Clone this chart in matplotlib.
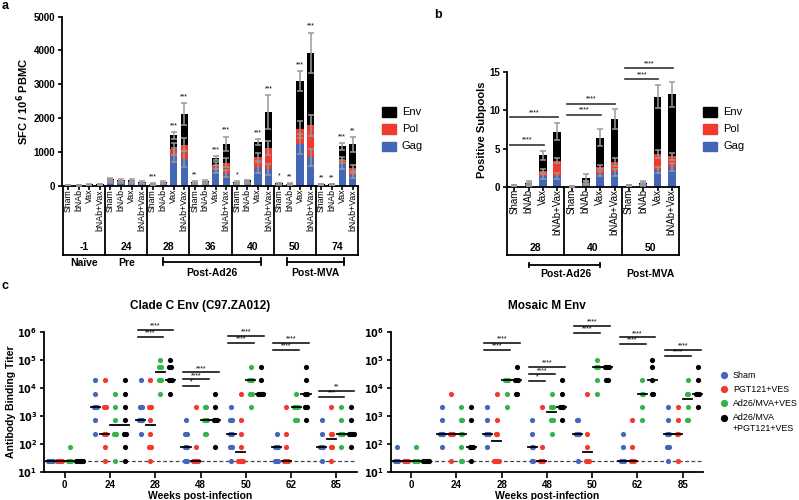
import numpy as np
import matplotlib.pyplot as plt
from matplotlib.patches import Rectangle
from matplotlib.lines import Line2D

plt.rcParams['font.family'] = ['Liberation Sans', 'DejaVu Sans']
W, H = 799, 500


def fx(px):
    return px / W


def fy(py):
    return 1 - py / H


BLUE = '#4466b8'
RED = '#ef3a2d'
GREEN = '#33b44a'
GREY = '#9a9a9a'

# ---------------- panel a data (SFC / 10^6 PBMC) ----------------
a_weeks = ['-1', '24', '28', '36', '40', '50', '74']
treatments = ['Sham', 'bNAb', 'Vax', 'bNAb+Vax']
a_gag = [8, 4, 12, 16, 110, 90, 80, 60, 25, 50, 905, 787, 50, 65, 480, 354,
         50, 75, 522, 475, 35, 25, 1237, 840, 20, 20, 623, 297]
a_pol = [4, 2, 6, 8, 40, 30, 30, 20, 10, 20, 187, 423, 20, 25, 120, 316,
         20, 30, 324, 632, 15, 10, 423, 940, 8, 8, 119, 216]
a_env = [8, 4, 12, 16, 50, 50, 40, 30, 15, 30, 394, 906, 30, 40, 207, 560,
         30, 45, 443, 1068, 20, 15, 1426, 2145, 12, 12, 424, 704]
a_gag_err = [6, 4, 8, 10, 30, 25, 25, 20, 10, 15, 220, 230, 15, 20, 120, 110,
             15, 20, 160, 150, 10, 10, 300, 250, 8, 8, 120, 80]
a_pol_err = [6, 4, 8, 10, 30, 25, 25, 20, 10, 15, 180, 200, 15, 20, 110, 130,
             15, 20, 130, 200, 10, 10, 250, 300, 8, 8, 90, 90]
a_env_err = [8, 6, 10, 12, 35, 30, 30, 25, 12, 20, 100, 324, 20, 25, 60, 217,
             20, 25, 90, 495, 15, 12, 294, 605, 10, 10, 100, 216]
a_stars = ['', '', '', '', '', '', '', '', '***', '', '***', '***',
           '**', '', '***', '***', '*', '', '***', '***',
           '*', '**', '***', '***', '**', '**', '***', '**']

# ---------------- panel b data (positive subpools) ----------------
b_weeks = ['28', '40', '50']
b_gag = [0.08, 0.2, 1.4, 1.4, 0.02, 0.4, 1.7, 1.9, 0.08, 0.3, 2.2, 2.55]
b_pol = [0.03, 0.1, 0.6, 2.0, 0.01, 0.15, 0.85, 1.35, 0.03, 0.1, 2.05, 1.45]
b_env = [0.04, 0.2, 2.1, 3.8, 0.02, 0.65, 3.9, 5.6, 0.04, 0.15, 7.55, 8.1]
b_gag_err = [0.05, 0.15, 0.4, 0.4, 0.03, 0.2, 0.3, 0.45, 0.05, 0.15, 0.4, 0.5]
b_pol_err = [0.05, 0.15, 0.35, 0.35, 0.03, 0.2, 0.25, 0.5, 0.05, 0.15, 0.5, 0.45]
b_env_err = [0.05, 0.25, 0.6, 1.1, 0.03, 0.4, 1.1, 1.3, 0.05, 0.25, 1.5, 1.6]
# (from bar, to bar, height, label)
b_sigs = [(0, 2, 5.47, '****'), (0, 3, 9.1, '****'),
          (4, 6, 9.4, '****'), (4, 7, 10.84, '****'),
          (8, 10, 14.08, '****'), (8, 11, 15.5, '****')]

# ---------------- panel c data (binding titers) ----------------
c_weeks = ['0', '24', '28', '48', '50', '62', '85']
c_groups = ['Sham', 'PGT121+VES', 'Ad26/MVA+VES', 'Ad26/MVA\n+PGT121+VES']
clade_sham = [[25, 25, 25, 25],
              [18225, 6075, 2025, 2025, 2025, 675, 225],
              [18225, 2025, 2025, 675, 675, 675, 225],
              [675, 225, 225, 75, 75, 25, 25],
              [2025, 675, 675, 225, 225, 75, 75, 25],
              [225, 75, 75, 75, 25, 25, 25],
              [675, 225, 75, 75, 75, 25]]
clade_pgt = [[25, 25, 25, 25],
             [18225, 2025, 2025, 225, 225, 75, 25],
             [18225, 2025, 2025, 675, 225, 75, 75, 25],
             [2025, 75, 25, 25, 25, 25],
             [6075, 675, 225, 75, 25, 25, 25, 25],
             [2025, 225, 75, 25, 25, 25, 25],
             [2025, 225, 225, 75, 75, 25]]
clade_ad26 = [[75, 25, 25, 25],
              [6075, 2025, 675, 225, 225, 25],
              [95000, 54675, 54675, 18225, 18225, 6075],
              [2025, 2025, 675, 675, 675, 225, 225],
              [54675, 18225, 18225, 18225, 6075, 6075, 2025],
              [6075, 2025, 2025, 2025, 675, 675],
              [2025, 675, 225, 225, 225, 75]]
clade_combo = [[25, 25, 25, 25, 25],
               [18225, 6075, 2025, 675, 225, 225, 75, 25],
               [95000, 54675, 54675, 18225, 18225, 18225, 6075],
               [6075, 2025, 675, 675, 675, 75],
               [54675, 18225, 6075, 6075, 6075, 6075],
               [54675, 18225, 6075, 6075, 2025, 2025, 675],
               [2025, 675, 225, 225, 225, 225, 75]]
clade_sigs = [(2, 3, 1.15e6, '****'), (2, 2, 6.6e5, '****'),
              (3, 3, 3.5e4, '****'), (3, 2, 2.0e4, '****'), (3, 1, 1.15e4, '*'),
              (4, 3, 7.1e5, '****'), (4, 2, 4.1e5, '****'),
              (5, 3, 4.1e5, '****'), (5, 2, 2.3e5, '****'),
              (6, 3, 7.8e3, '**'), (6, 2, 4.6e3, '***')]

mos_sham = [[75, 25, 25, 25],
            [2025, 675, 225, 225, 225, 75],
            [2025, 675, 225, 225, 225, 75],
            [675, 225, 75, 75, 25, 25],
            [675, 675, 225, 225, 225, 25],
            [225, 75, 25, 25, 25],
            [2025, 675, 225, 225, 75, 75, 25]]
mos_pgt = [[25, 25, 25, 25],
           [6075, 225, 225, 225, 25],
           [6075, 675, 225, 225, 25, 25, 25, 25],
           [2025, 75, 25, 25, 25],
           [6075, 225, 75, 25, 25, 25],
           [675, 75, 25, 25, 25],
           [2025, 675, 225, 225, 25]]
mos_ad26 = [[75, 25, 25, 25, 25],
            [2025, 675, 675, 225, 225, 75, 25, 25],
            [18225, 18225, 18225, 6075, 2025],
            [6075, 2025, 2025, 675, 675, 225],
            [95000, 54675, 54675, 18225, 6075],
            [18225, 6075, 6075, 2025, 675],
            [18225, 6075, 6075, 2025, 675, 675]]
mos_combo = [[25, 25, 25, 25, 25],
             [2025, 675, 75, 75, 75, 25],
             [54675, 18225, 18225, 18225, 6075, 6075],
             [18225, 6075, 2025, 2025, 2025, 675],
             [54675, 54675, 54675, 18225, 18225],
             [95000, 54675, 18225, 6075, 6075],
             [54675, 18225, 6075, 6075, 6075, 2025]]
mos_sigs = [(2, 3, 3.9e5, '****'), (2, 2, 2.2e5, '****'),
            (3, 3, 5.4e4, '****'), (3, 2, 3.0e4, '****'), (3, 1, 1.8e4, '*'),
            (4, 3, 1.6e6, '****'), (4, 2, 9.1e5, '****'),
            (5, 3, 6.3e5, '****'), (5, 2, 3.6e5, '****'),
            (6, 3, 2.2e5, '****'), (6, 2, 1.35e5, '****')]
limit_of_detection = 25

fig = plt.figure(figsize=(W / 100, H / 100), dpi=100)


def style_axis(ax, size=7):
    for s in ['top', 'right']:
        ax.spines[s].set_visible(False)
    for s in ['left', 'bottom']:
        ax.spines[s].set_linewidth(1.3)
    ax.tick_params(width=1.2, length=3, labelsize=size, pad=2)
    for lab in ax.get_yticklabels() + ax.get_xticklabels():
        lab.set_fontweight('bold')


def stacked_bars(ax, gag, pol, env, gerr, perr, eerr, width):
    x = np.arange(len(gag))
    gag, pol, env = np.array(gag), np.array(pol), np.array(env)
    ax.bar(x, gag, width, color=BLUE, zorder=2)
    ax.bar(x, pol, width, bottom=gag, color=RED, zorder=2)
    ax.bar(x, env, width, bottom=gag + pol, color='black', zorder=2)
    for top, err in [(gag, gerr), (gag + pol, perr), (gag + pol + env, eerr)]:
        ax.errorbar(x, top, yerr=err, fmt='none', ecolor=GREY, elinewidth=1.1,
                    capsize=2.2, capthick=1.1, zorder=3)
    return x, gag + pol + env


def group_box(ax, n_groups, labels, box_y, num_y, lab_size):
    tr = ax.get_xaxis_transform()
    n = n_groups * 4
    for i in range(n):
        ax.text(i, -0.02, treatments[i % 4], rotation=90, ha='center', va='top',
                fontsize=lab_size, transform=tr)
    for b in np.arange(-0.5, n, 4):
        ax.plot([b, b], [0, box_y], color='black', lw=1.3, transform=tr, clip_on=False)
    ax.plot([-0.5, n - 0.5], [box_y, box_y], color='black', lw=1.3, transform=tr,
            clip_on=False)
    for g, lab in enumerate(labels):
        ax.text(g * 4 + 1.5, num_y, lab, ha='center', va='center', fontsize=7.5,
                fontweight='bold', transform=tr)


def bracket(ax, x0, x1, y):
    tr = ax.get_xaxis_transform()
    ax.plot([x0, x1], [y, y], color='black', lw=1.3, transform=tr, clip_on=False)
    for xe in (x0, x1):
        ax.plot([xe, xe], [y - 0.02, y + 0.02], color='black', lw=1.3,
                transform=tr, clip_on=False)


# ---------------- panel a ----------------
ax_a = fig.add_axes([fx(62), fy(185.5), fx(358) - fx(62), (185.5 - 16.7) / H])
x_a, tot_a = stacked_bars(ax_a, a_gag, a_pol, a_env, a_gag_err, a_pol_err,
                          a_env_err, 0.68)
for xi, t, e, s in zip(x_a, tot_a, a_env_err, a_stars):
    if s:
        ax_a.annotate(s, (xi, t + e), xytext=(0, 2), textcoords='offset points',
                      ha='center', va='bottom', fontsize=5)
ax_a.set_xlim(-0.6, 27.5)
ax_a.set_ylim(0, 5000)
ax_a.set_yticks(range(0, 5001, 1000))
ax_a.set_xticks(x_a)
ax_a.set_xticklabels([])
ax_a.set_ylabel('SFC / 10$^{\\mathbf{6}}$ PBMC', fontsize=8, fontweight='bold',
                labelpad=2)
style_axis(ax_a)
group_box(ax_a, 7, a_weeks, -0.412, -0.363, 6.3)
tr_a = ax_a.get_xaxis_transform()
ax_a.text(1.5, -0.457, 'Naïve', ha='center', va='center', fontsize=7.5,
          fontweight='bold', transform=tr_a)
ax_a.text(5.5, -0.457, 'Pre', ha='center', va='center', fontsize=7.5,
          fontweight='bold', transform=tr_a)
bracket(ax_a, 9.0, 18.3, -0.451)
bracket(ax_a, 20.8, 26.2, -0.451)
ax_a.text(13.65, -0.518, 'Post-Ad26', ha='center', va='center', fontsize=7.5,
          fontweight='bold', transform=tr_a)
ax_a.text(23.5, -0.518, 'Post-MVA', ha='center', va='center', fontsize=7.5,
          fontweight='bold', transform=tr_a)

# ---------------- panel b ----------------
ax_b = fig.add_axes([fx(507), fy(186.7), fx(679) - fx(507), (186.7 - 72.3) / H])
x_b, tot_b = stacked_bars(ax_b, b_gag, b_pol, b_env, b_gag_err, b_pol_err,
                          b_env_err, 0.55)
for i0, i1, h, s in b_sigs:
    ax_b.plot([i0 - 0.3, i1 + 0.05], [h, h], color='#333333', lw=1.2, clip_on=False)
    ax_b.text((i0 + i1) / 2 - 0.1, h + 0.15, s, ha='center', va='bottom', fontsize=5)
ax_b.set_xlim(-0.5, 11.5)
ax_b.set_ylim(0, 15)
ax_b.set_yticks([0, 5, 10, 15])
ax_b.set_xticks(x_b)
ax_b.set_xticklabels([])
ax_b.set_ylabel('Positive Subpools', fontsize=8, fontweight='bold', labelpad=2)
style_axis(ax_b)
group_box(ax_b, 3, b_weeks, -0.597, -0.536, 7)
tr_b = ax_b.get_xaxis_transform()
bracket(ax_b, 1.03, 5.99, -0.684)
ax_b.text(3.6, -0.763, 'Post-Ad26', ha='center', va='center', fontsize=7.5,
          fontweight='bold', transform=tr_b)
ax_b.text(9.5, -0.763, 'Post-MVA', ha='center', va='center', fontsize=7.5,
          fontweight='bold', transform=tr_b)

# bar legends
for lx in (382, 703):
    for ly, col, lab in [(107, 'black', 'Env'), (124.5, RED, 'Pol'), (141.5, BLUE, 'Gag')]:
        fig.add_artist(Rectangle((fx(lx), fy(ly + 9.5)), 14 / W, 9.5 / H,
                                 transform=fig.transFigure, color=col))
        fig.text(fx(lx + 20), fy(ly + 4.8), lab, fontsize=8, va='center')

# ---------------- panel c ----------------
offsets = [-0.32, -0.11, 0.11, 0.33]
dot_cols = [BLUE, RED, GREEN, 'black']


def dot_panel(ax, groups, sigs, title):
    for g, data in enumerate(groups):
        for w, vals in enumerate(data):
            xc = w + offsets[g]
            vals = np.array(vals, dtype=float)
            for v in np.unique(vals):
                n = int(np.sum(vals == v))
                xs = xc + (np.arange(n) - (n - 1) / 2) * 0.035
                ax.scatter(xs, np.full(n, v), s=14, color=dot_cols[g],
                           linewidths=0, zorder=3)
            med = np.median(vals)
            ax.plot([xc - 0.1, xc + 0.1], [med, med], color='black', lw=1.3,
                    zorder=4)
    ax.axhline(limit_of_detection, color='#444444', lw=0.9, ls=(0, (3, 2)), zorder=1)
    for w, g1, h, s in sigs:
        x0 = w + offsets[0] - 0.07
        x1 = w + offsets[g1] + 0.07
        ax.plot([x0, x1], [h, h], color='black', lw=1.1, clip_on=False, zorder=5)
        ax.text((x0 + x1) / 2, h * 1.03, s, ha='center', va='bottom', fontsize=5)
    ax.set_yscale('log')
    ax.set_ylim(10, 1e6)
    ax.set_xlim(-0.45, 6.45)
    ax.set_yticks([10 ** k for k in range(1, 7)])
    ax.set_yticklabels(['$\\mathbf{10^{%d}}$' % k for k in range(1, 7)])
    ax.minorticks_off()
    ax.set_xticks(range(len(c_weeks)))
    ax.set_xticklabels(c_weeks)
    ax.set_xlabel('Weeks post-infection', fontsize=7.5, fontweight='bold', labelpad=1)
    ax.set_title(title, fontsize=8.5, fontweight='bold', pad=16)
    style_axis(ax, 7)
    ax.tick_params(axis='x', length=4, pad=2)


ax_c1 = fig.add_axes([fx(44.3), fy(471.7), fx(356.7) - fx(44.3), 140 / H])
dot_panel(ax_c1, [clade_sham, clade_pgt, clade_ad26, clade_combo], clade_sigs,
          'Clade C Env (C97.ZA012)')
ax_c1.set_ylabel('Antibody Binding Titer', fontsize=7.5, fontweight='bold', labelpad=1)

ax_c2 = fig.add_axes([fx(390.7), fy(471.7), fx(703) - fx(390.7), 140 / H])
dot_panel(ax_c2, [mos_sham, mos_pgt, mos_ad26, mos_combo], mos_sigs, 'Mosaic M Env')

# dot legend
for ly, col, lab in zip([375, 389.3, 403.3, 418.3], dot_cols, c_groups):
    fig.add_artist(Line2D([fx(724)], [fy(ly)], marker='o', markersize=4.2,
                          color=col, lw=0, transform=fig.transFigure))
    fig.text(fx(733), fy(ly - 5 if '\n' in lab else ly), lab, fontsize=6.4,
             va='top' if '\n' in lab else 'center', linespacing=1.2)

# panel letters
fig.text(fx(2), fy(6), 'a', fontsize=9, fontweight='bold', va='center')
fig.text(fx(434), fy(15), 'b', fontsize=9, fontweight='bold', va='center')
fig.text(fx(2), fy(286), 'c', fontsize=9, fontweight='bold', va='center')

fig.savefig('out.png', dpi=100)
